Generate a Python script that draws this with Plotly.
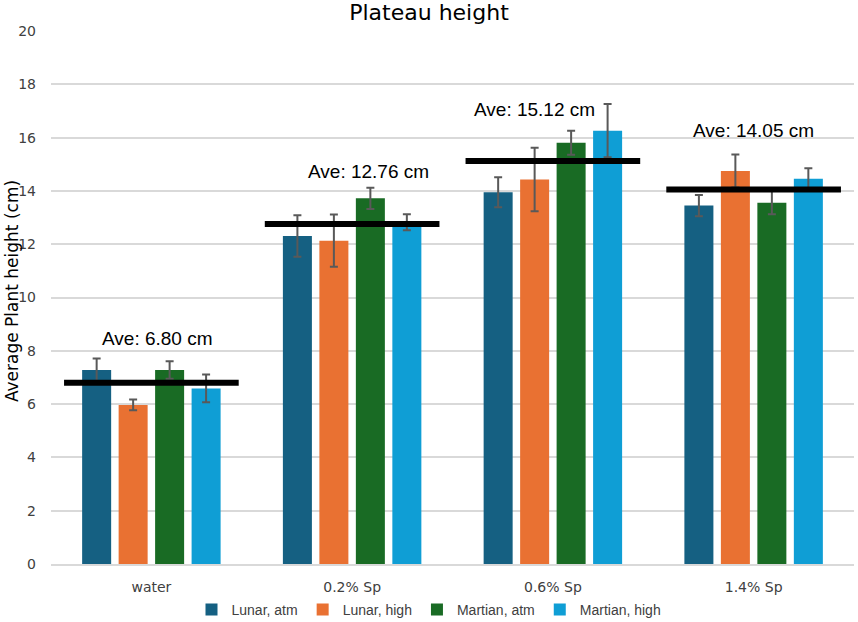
import plotly.graph_objects as go

categories = ["water", "0.2% Sp", "0.6% Sp", "1.4% Sp"]
series_names = ["Lunar, atm", "Lunar, high", "Martian, atm", "Martian, high"]
lunar_atm = [7.28, 12.31, 13.95, 13.45]
lunar_high = [5.97, 12.13, 14.43, 14.75]
martian_atm = [7.28, 13.72, 15.81, 13.56]
martian_high = [6.59, 12.82, 16.26, 14.46]
err_lunar_atm = [0.43, 0.78, 0.56, 0.40]
err_lunar_high = [0.20, 0.98, 1.19, 0.62]
err_martian_atm = [0.33, 0.40, 0.45, 0.44]
err_martian_high = [0.52, 0.30, 1.00, 0.39]
averages = [6.80, 12.76, 15.12, 14.05]
avg_labels = ["Ave: 6.80 cm", "Ave: 12.76 cm", "Ave: 15.12 cm", "Ave: 14.05 cm"]
y_ticks = [0, 2, 4, 6, 8, 10, 12, 14, 16, 18, 20]

# layout-only settings
colors = ["#156082", "#E97132", "#196B24", "#0F9ED5"]
label_x_offset = [0.03, 0.08, -0.09, 0.0]
label_y_pos = [8.48, 14.72, 17.07, 16.26]
line_half = 0.435

values = [lunar_atm, lunar_high, martian_atm, martian_high]
errors = [err_lunar_atm, err_lunar_high, err_martian_atm, err_martian_high]

tick_font = dict(family="DejaVu Sans", size=14, color="#404040")

fig = go.Figure()
for name, vals, errs, col in zip(series_names, values, errors, colors):
    fig.add_trace(go.Bar(
        x=categories, y=vals, name=name, marker_color=col,
        marker_line_width=0,
        error_y=dict(type="data", array=errs, visible=True,
                     color="#595959", thickness=2, width=4),
    ))

for i, avg in enumerate(averages):
    fig.add_trace(go.Scatter(
        x=[i - line_half, i + line_half], y=[avg, avg], xaxis="x2",
        mode="lines", line=dict(color="black", width=6),
        showlegend=False, hoverinfo="skip",
    ))

annotations = []
for i, txt in enumerate(avg_labels):
    annotations.append(dict(
        x=i + label_x_offset[i], y=label_y_pos[i], xref="x2", yref="y",
        text=txt, showarrow=False,
        font=dict(family="Liberation Sans", size=19, color="#000000"),
        xanchor="center", yanchor="middle",
    ))
annotations.append(dict(
    x=0, y=0.512, xref="paper", yref="paper", xshift=-39,
    text="Average Plant height (cm)", textangle=-90, showarrow=False,
    xanchor="center", yanchor="middle",
    font=dict(family="DejaVu Sans", size=17, color="#000000"),
))

fig.update_layout(
    width=858, height=622,
    paper_bgcolor="white", plot_bgcolor="white",
    margin=dict(l=51, r=4, t=31, b=58, autoexpand=False),
    title=dict(text="Plateau height", x=0.5, xanchor="center", y=0.981, yanchor="middle",
               font=dict(family="DejaVu Sans", size=22, color="#000000")),
    barmode="group", bargap=0.273, bargroupgap=0.205,
    xaxis=dict(type="category", categoryorder="array", categoryarray=categories,
               tickfont=tick_font, showgrid=False, showline=True,
               linecolor="#d9d9d9", linewidth=1.5, ticks="", range=[-0.5, 3.5],
               ticklabelstandoff=9),
    xaxis2=dict(overlaying="x", range=[-0.5, 3.5], visible=False, showgrid=False,
                zeroline=False),
    yaxis=dict(range=[0, 20], tickvals=y_ticks, tickfont=tick_font,
               showgrid=True, gridcolor="#d9d9d9", gridwidth=1.5,
               zeroline=False, showline=False, ticks="",
               ticklabelstandoff=14),
    legend=dict(orientation="h", xref="container", x=0.5, xanchor="center",
                y=-0.086, yanchor="middle",
                font=dict(family="Liberation Sans", size=14, color="#404040"),
                bgcolor="rgba(0,0,0,0)",
                itemwidth=30, traceorder="normal"),
    annotations=annotations,
    showlegend=True,
)

fig.write_html("out.html", config={"displayModeBar": False},
               post_script="document.body.style.margin='0';")
